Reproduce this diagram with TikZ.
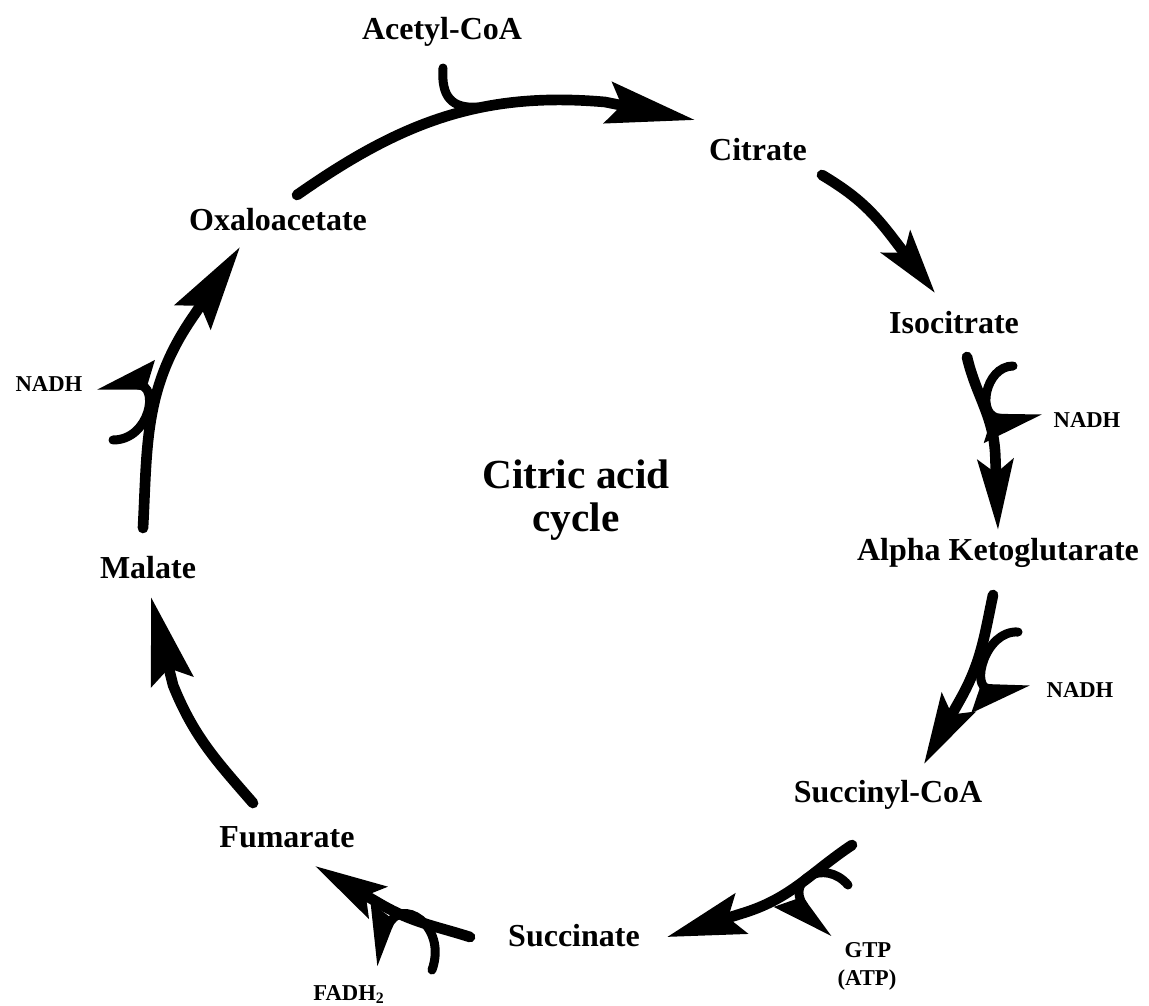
\documentclass[tikz,border=0pt]{standalone}
\usepackage{fontspec}
\setmainfont{Liberation Serif}
\usetikzlibrary{arrows.meta}
\begin{document}
\begin{tikzpicture}[x=0.75pt,y=0.75pt,
  lbl/.style={font=\fontsize{24}{28}\selectfont\bfseries, anchor=base, inner sep=0pt},
  ttl/.style={font=\fontsize{31}{33}\selectfont\bfseries, anchor=base, inner sep=0pt},
  small/.style={font=\fontsize{17}{21}\selectfont\bfseries, anchor=base, inner sep=0pt},
  cyc/.style 2 args={line width=8pt, line cap=round, line join=round, -{Stealth[length=#1pt,width=#2pt,inset=10pt]}},
  hookin/.style={line width=6.75pt, line cap=round},
  hookout/.style={line width=6.75pt, line cap=round, -{Stealth[harpoon,swap,length=36pt,width=36pt,inset=5pt]}}]
\useasboundingbox (0,0) rectangle (1149,-1006);

% metabolites
\node[lbl] (acetyl) at (442,-40) {Acetyl-CoA};
\node[lbl] (citrate) at (758,-160) {Citrate};
\node[lbl] (isocitrate) at (954,-333) {Isocitrate};
\node[lbl] (akg) at (998,-560) {Alpha Ketoglutarate};
\node[lbl] (succoa) at (888,-802) {Succinyl-CoA};
\node[lbl] (succinate) at (574,-946) {Succinate};
\node[lbl] (fumarate) at (287,-847) {Fumarate};
\node[lbl] (malate) at (148,-578) {Malate};
\node[lbl] (oxalo) at (278,-230) {Oxaloacetate};
\node[ttl] (title1) at (576,-488) {Citric acid};
\node[ttl] (title2) at (576,-531) {cycle};

% cofactors
\node[small] (nadh1) at (1087,-427) {NADH};
\node[small] (nadh2) at (1080,-697) {NADH};
\node[small] (gtp) at (868,-957) {GTP};
\node[small] (atp) at (867,-985) {(ATP)};
\node[small] (fadh) at (349,-1000) {FADH\textsubscript{2}};
\node[small] (nadh3) at (49,-391) {NADH};

% arrow start, head base and tip points
\coordinate (s1) at (297,-195); \coordinate (b1) at (605,-102);   \coordinate (t1) at (695,-120);
\coordinate (s2) at (822,-175); \coordinate (b2) at (892.4,-237.4); \coordinate (t2) at (935,-293);
\coordinate (s3) at (967,-357); \coordinate (b3) at (995.3,-456); \coordinate (t3) at (998,-530);
\coordinate (s4) at (993,-595); \coordinate (b4) at (960.2,-699.5); \coordinate (t4) at (924,-764);
\coordinate (s5) at (852,-845); \coordinate (b5) at (744.3,-912.7); \coordinate (t5) at (667,-937);
\coordinate (s6) at (470,-937); \coordinate (b6) at (380.7,-904.2); \coordinate (t6) at (315,-866);
\coordinate (s7) at (253,-803); \coordinate (b7) at (173.1,-685.3); \coordinate (t7) at (151,-597);
\coordinate (s8) at (143,-528); \coordinate (b8) at (190.8,-320);  \coordinate (t8) at (240,-247);

% main cycle arrows
\draw[cyc={66}{31}]   (s1) to[out=35,in=175]     (b1) -- (t1);
\draw[cyc={48}{27}]   (s2) to[out=-31,in=127.4]  (b2) -- (t2);
\draw[cyc={52.5}{26.5}] (s3) to[out=-76.9,in=92.1] (b3) -- (t3);
\draw[cyc={52.5}{28.5}] (s4) to[out=-101.9,in=60.7] (b4) -- (t4);
\draw[cyc={58}{31}]   (s5) to[out=213.7,in=17.5] (b5) -- (t5);
\draw[cyc={54}{27}]   (s6) to[out=162.3,in=-30.1] (b6) -- (t6);
\draw[cyc={65}{32}]   (s7) to[out=131,in=-68]    (b7) -- (t7);
\draw[cyc={63}{32}]   (s8) to[out=87,in=236]     (b8) -- (t8);

% side hooks
\coordinate (a0) at (443,-68); \coordinate (a1) at (478,-107);
\draw[hookin] (a0) .. controls (441,-97) and (452,-109) .. (a1);

\coordinate (n1a) at (1013,-366); \coordinate (n1b) at (1042,-419);
\draw[hookout] (n1a) .. controls (985,-366) and (975,-418) .. (n1b);

\coordinate (n2a) at (1018,-632); \coordinate (n2b) at (1030,-690);
\draw[hookout] (n2a) .. controls (985,-630) and (970,-688) .. (n2b);

\coordinate (g0) at (848,-885); \coordinate (g1) at (828,-939);
\draw[hookout] (g0) .. controls (825,-858) and (785,-880) .. (g1);

\coordinate (f0) at (432,-970); \coordinate (f1) at (373,-965);
\draw[hookout] (f0) .. controls (448,-925) and (400,-895) .. (f1);

\coordinate (n3a) at (113,-440); \coordinate (n3b) at (97,-385);
\draw[hookout] (n3a) .. controls (150,-440) and (160,-385) .. (n3b);
\end{tikzpicture}
\end{document}
